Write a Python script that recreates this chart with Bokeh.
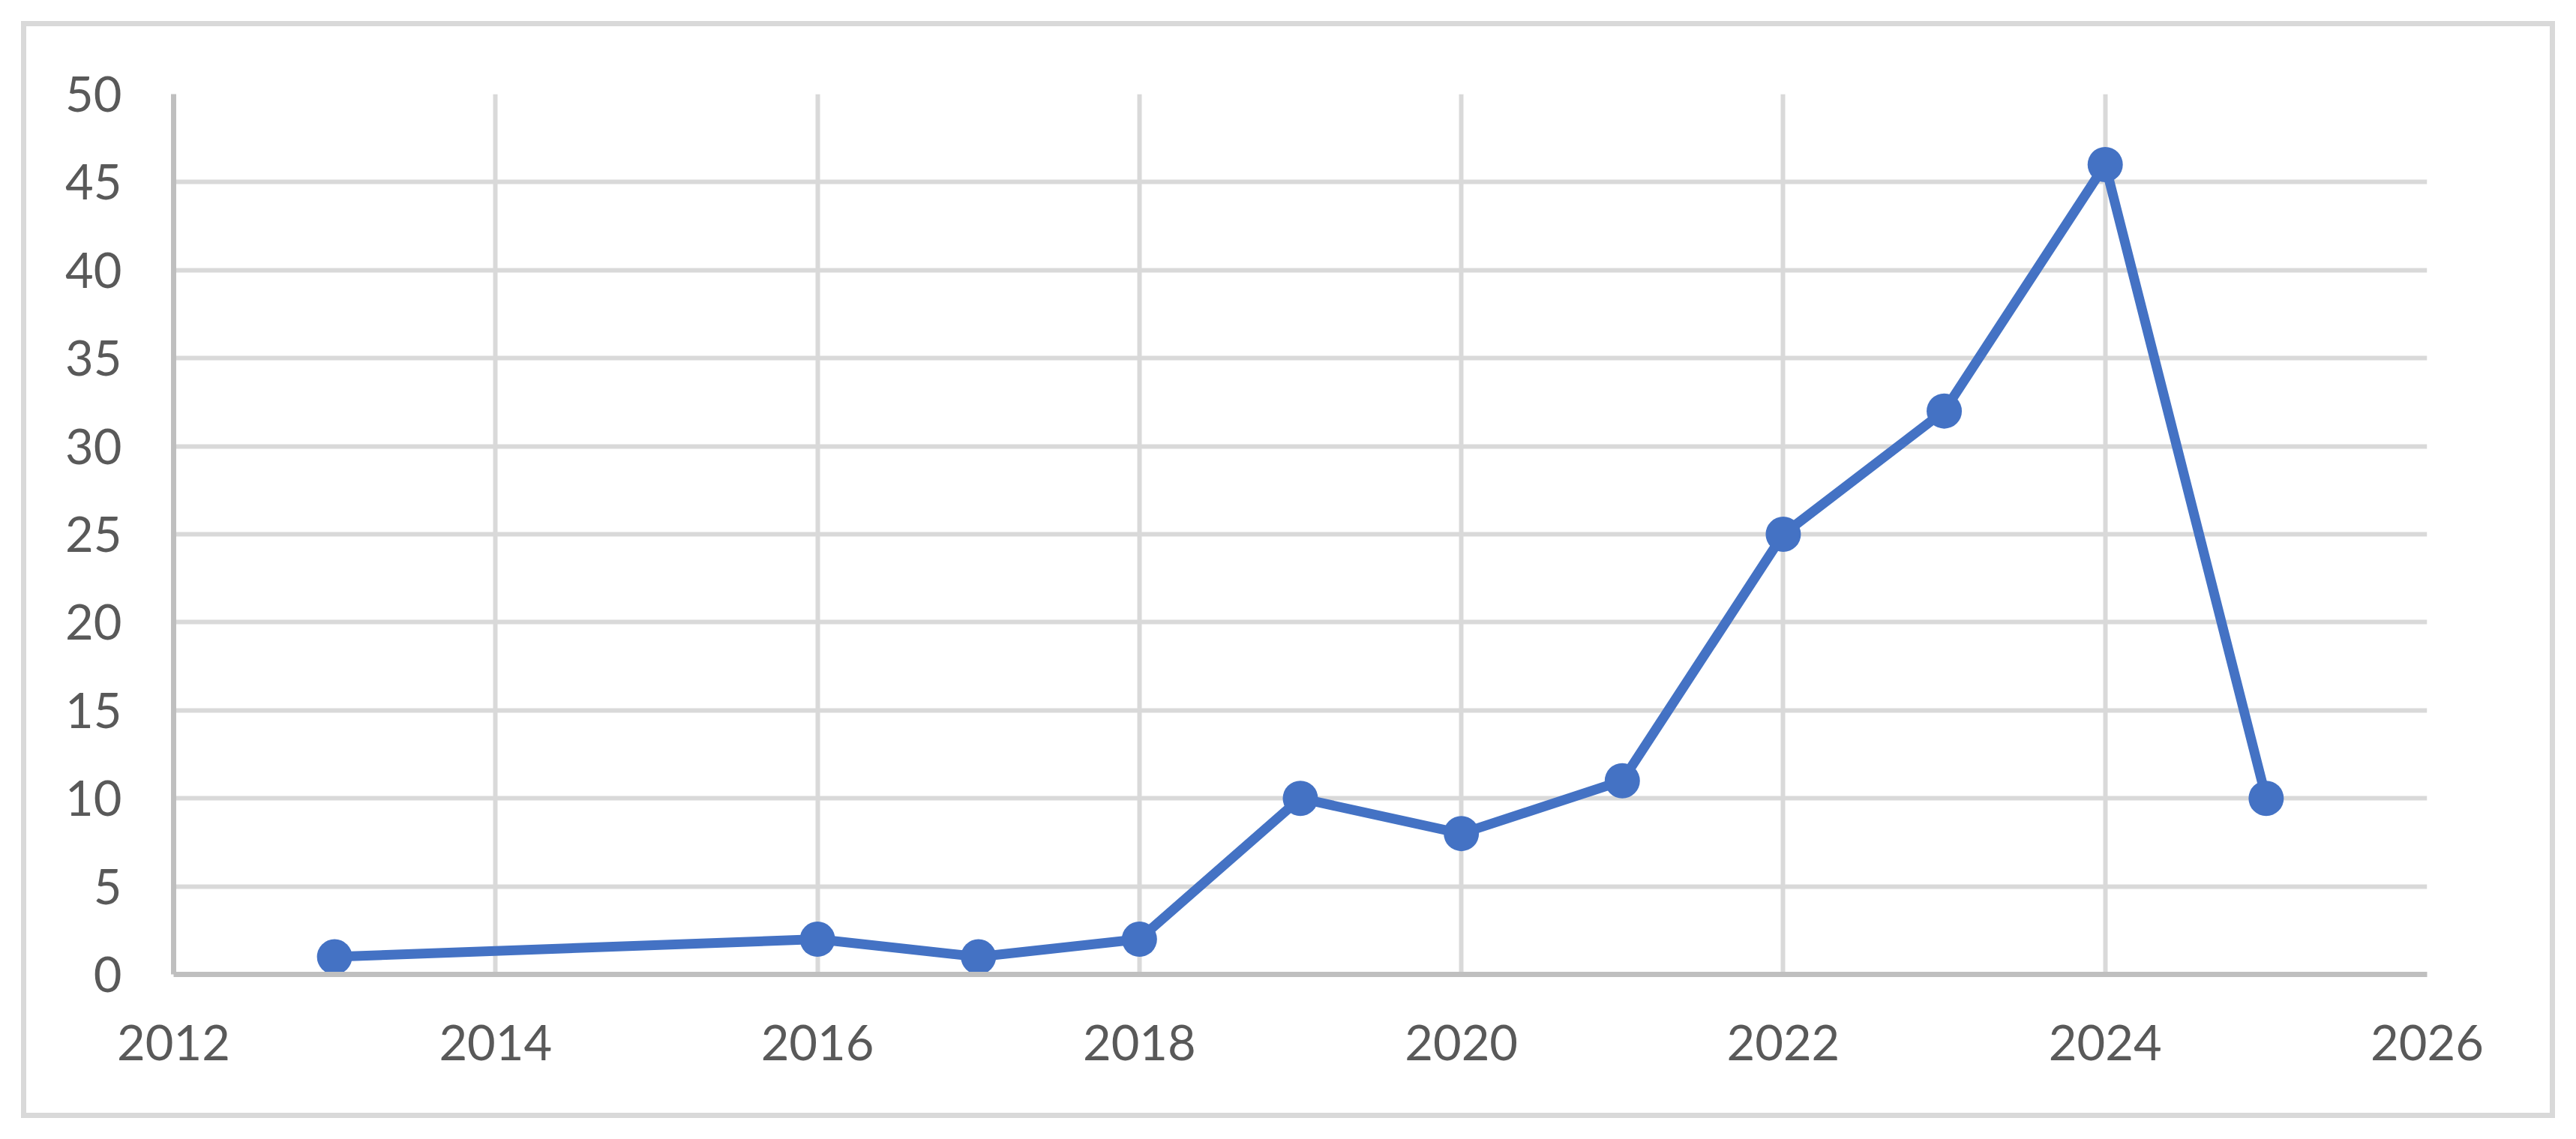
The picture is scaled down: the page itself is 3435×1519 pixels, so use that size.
from bokeh.plotting import figure
from bokeh.models import Range1d, FixedTicker, ColumnDataSource
from bokeh.embed import file_html
from bokeh.resources import INLINE

years = [2013, 2016, 2017, 2018, 2019, 2020, 2021, 2022, 2023, 2024, 2025]
counts = [1, 2, 1, 2, 10, 8, 11, 25, 32, 46, 10]
x_ticks = [2012, 2014, 2016, 2018, 2020, 2022, 2024, 2026]
y_ticks = [0, 5, 10, 15, 20, 25, 30, 35, 40, 45, 50]

src = ColumnDataSource(data=dict(year=years, count=counts))

grid_color = "#D9D9D9"
axis_color = "#BFBFBF"
label_color = "#595959"
font = "Lato"

p = figure(
    output_backend="svg", toolbar_location=None,
    frame_width=3005, frame_height=1174,
    min_border_left=231, min_border_right=199,
    min_border_top=125, min_border_bottom=220,
    x_range=Range1d(2012, 2026), y_range=Range1d(0, 50),
)
p.styles = {"box-shadow": "inset 0 0 0 28px white, inset 0 0 0 35px " + grid_color,
            "outline": "7px solid " + grid_color, "outline-offset": "-35px"}
p.outline_line_color = None
p.background_fill_color = "white"
p.border_fill_color = None

p.xaxis.ticker = FixedTicker(ticks=x_ticks)
p.yaxis.ticker = FixedTicker(ticks=y_ticks)
p.xgrid.ticker = FixedTicker(ticks=x_ticks)
p.ygrid.ticker = FixedTicker(ticks=y_ticks)

for g in (p.xgrid, p.ygrid):
    g.grid_line_color = grid_color
    g.grid_line_width = 6

for ax in (p.xaxis, p.yaxis):
    ax.axis_line_color = axis_color
    ax.axis_line_width = 7
    ax.major_tick_line_color = None
    ax.minor_tick_line_color = None
    ax.major_tick_in = 0
    ax.major_tick_out = 0
    ax.minor_tick_in = 0
    ax.minor_tick_out = 0
    ax.major_label_text_font = font
    ax.major_label_text_font_size = "65px"
    ax.major_label_text_color = label_color

p.xaxis.major_label_standoff = 67
p.yaxis.major_label_standoff = 69

p.line("year", "count", source=src, line_color="#4472C4", line_width=13)
p.scatter("year", "count", source=src, size=47, fill_color="#4472C4",
          line_color="#4472C4", line_width=0)

open("out.html", "w").write(file_html(p, INLINE))
